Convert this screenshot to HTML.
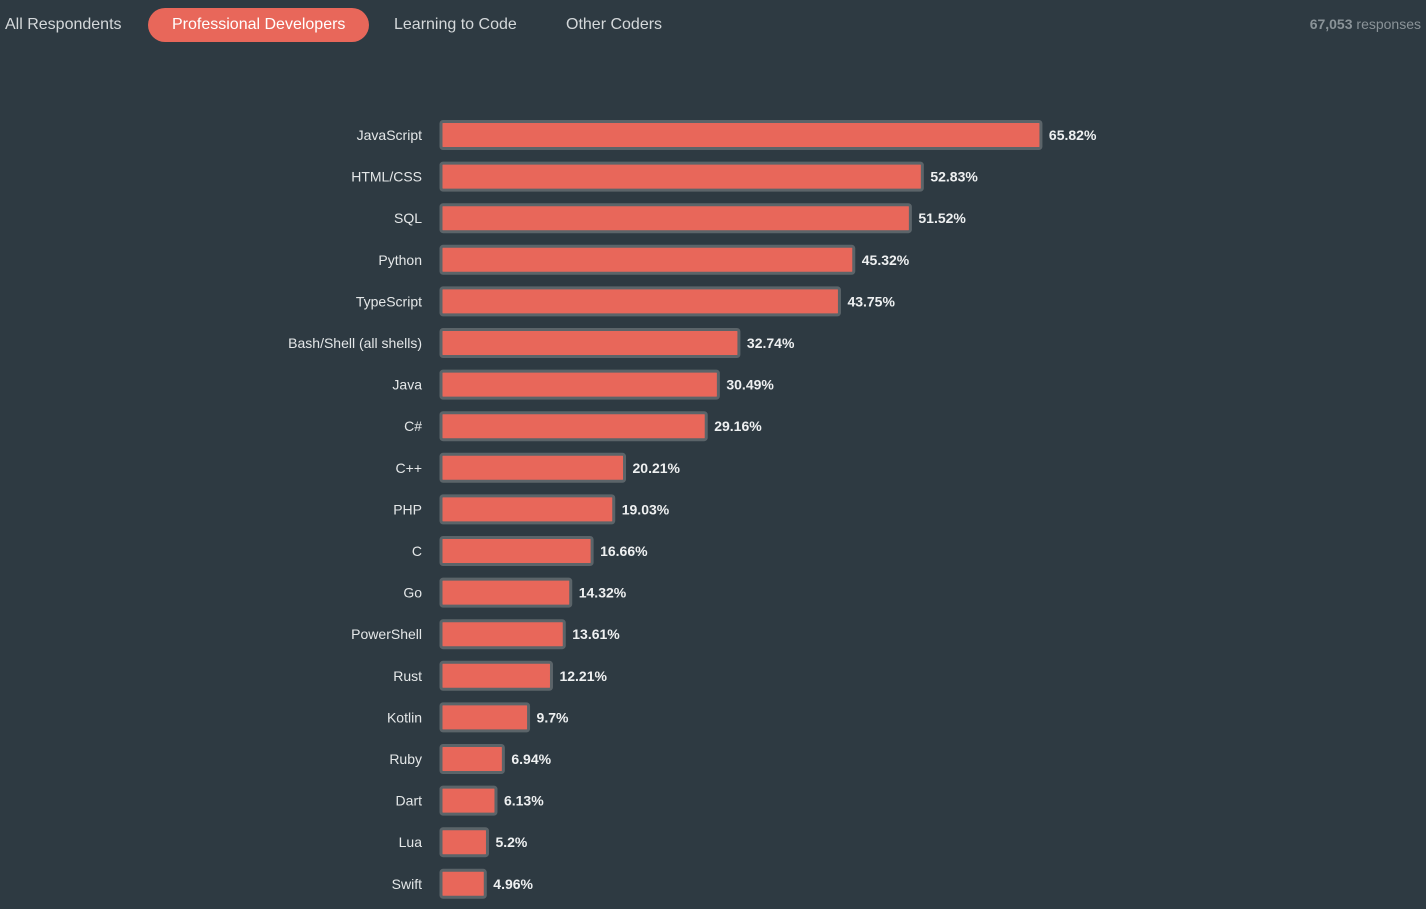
<!DOCTYPE html>
<html><head><meta charset="utf-8"><style>
body{margin:0;width:1426px;height:909px;background:#2e3a42;font-family:"Liberation Sans",sans-serif;overflow:hidden;position:relative}
.tab{position:absolute;top:8px;height:34px;line-height:34px;font-size:16px;color:#d4d8da}
.active{background:#e8675a;color:#fff;border-radius:17px;padding:0 24px}
#resp{position:absolute;right:5px;top:16px;font-size:14px;color:#8a9398}
</style></head><body>
<div class="tab" style="left:5px">All Respondents</div>
<div class="tab active" style="left:148px">Professional Developers</div>
<div class="tab" style="left:394px">Learning to Code</div>
<div class="tab" style="left:566px">Other Coders</div>
<div id="resp"><b>67,053</b> responses</div>
<svg id="chart" width="1426" height="909" style="position:absolute;left:0;top:0"></svg>
<script>
const categories=["JavaScript","HTML/CSS","SQL","Python","TypeScript","Bash/Shell (all shells)","Java","C#","C++","PHP","C","Go","PowerShell","Rust","Kotlin","Ruby","Dart","Lua","Swift"];
const values=[65.82,52.83,51.52,45.32,43.75,32.74,30.49,29.16,20.21,19.03,16.66,14.32,13.61,12.21,9.7,6.94,6.13,5.2,4.96];
const svg=document.getElementById('chart');
const NS='http://www.w3.org/2000/svg';
const x0=440, pxPer=9.13, y0=135, step=41.6;
const x=v=>x0+v*pxPer;
const y=i=>y0+i*step;
categories.forEach((c,i)=>{
  const g=document.createElementNS(NS,'g');
  
  
  const r=document.createElementNS(NS,'rect');
  
  
  r.setAttribute('x',x0+1);r.setAttribute('y',y(i)-13.5);
  r.setAttribute('width',x(values[i])-x0-1);r.setAttribute('height',27);
  r.setAttribute('rx',2);
  r.setAttribute('fill','#e8675a');r.setAttribute('stroke','#5b6469');r.setAttribute('stroke-width',3);
  g.appendChild(r);
  const l=document.createElementNS(NS,'text');
  
  
  l.setAttribute('x',422);l.setAttribute('y',y(i)+5);l.setAttribute('text-anchor','end');
  l.setAttribute('fill','#e4e7e8');l.setAttribute('font-size','14');
  l.textContent=c;g.appendChild(l);
  const t=document.createElementNS(NS,'text');
  
  
  t.setAttribute('x',x(values[i])+8);t.setAttribute('y',y(i)+5);
  t.setAttribute('fill','#eef0f1');t.setAttribute('font-size','14');t.setAttribute('font-weight','bold');
  t.textContent=values[i]+'%';g.appendChild(t);
  svg.appendChild(g);
});
</script>
</body></html>
